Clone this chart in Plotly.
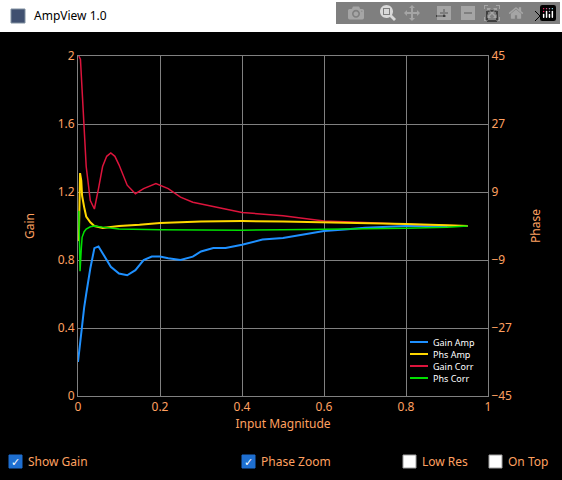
import plotly.graph_objects as go

# Gain traces (left axis)
gain_amp_x = [0.0, 0.005, 0.01, 0.015, 0.02, 0.03, 0.04, 0.05, 0.06, 0.08, 0.10, 0.12, 0.14, 0.16, 0.18, 0.20,
              0.22, 0.25, 0.28, 0.30, 0.33, 0.36, 0.40, 0.45, 0.50, 0.55, 0.60, 0.65, 0.70, 0.80, 0.90, 0.95]
gain_amp_y = [0.20, 0.32, 0.42, 0.52, 0.60, 0.75, 0.87, 0.88, 0.84, 0.76, 0.72, 0.71, 0.74, 0.80, 0.82, 0.82,
              0.81, 0.80, 0.82, 0.85, 0.87, 0.87, 0.89, 0.92, 0.93, 0.95, 0.97, 0.98, 0.99, 1.00, 1.00, 1.00]
gain_corr_x = [0.002, 0.006, 0.01, 0.015, 0.02, 0.03, 0.04, 0.05, 0.06, 0.07, 0.08, 0.09, 0.10, 0.12, 0.14,
               0.16, 0.19, 0.22, 0.25, 0.28, 0.32, 0.36, 0.40, 0.50, 0.60, 0.70, 0.80, 0.95]
gain_corr_y = [2.00, 1.98, 1.80, 1.55, 1.35, 1.15, 1.10, 1.22, 1.35, 1.41, 1.43, 1.41, 1.36, 1.24, 1.19,
               1.22, 1.25, 1.22, 1.17, 1.14, 1.12, 1.10, 1.08, 1.06, 1.03, 1.02, 1.01, 1.00]

# Phase traces (right axis, degrees)
phs_amp_x = [0.002, 0.005, 0.008, 0.01, 0.015, 0.02, 0.03, 0.04, 0.06, 0.10, 0.15, 0.20, 0.30, 0.40, 0.50,
             0.60, 0.70, 0.80, 0.90, 0.95]
phs_amp_y = [-4.0, 14.0, 12.0, 8.0, 5.0, 2.5, 1.0, 0.0, -0.5, 0.0, 0.3, 0.8, 1.2, 1.3, 1.2, 1.0, 0.8, 0.5, 0.2, 0.0]
phs_corr_x = [0.002, 0.005, 0.008, 0.01, 0.015, 0.02, 0.03, 0.04, 0.06, 0.10, 0.20, 0.30, 0.40, 0.50, 0.60,
              0.70, 0.80, 0.90, 0.95]
phs_corr_y = [4.0, -12.0, -6.0, -3.0, -1.5, -0.8, -0.2, 0.0, -0.3, -0.8, -1.0, -1.1, -1.1, -1.0, -0.9,
              -0.8, -0.6, -0.3, 0.0]

series_names = ["Gain Amp", "Phs Amp", "Gain Corr", "Phs Corr"]
series_colors = ["#1e90ff", "#ffd700", "#dc143c", "#00e000"]

ORANGE = "#ffa060"

fig = go.Figure()
fig.add_trace(go.Scatter(x=gain_amp_x, y=gain_amp_y, mode="lines", name=series_names[0],
                         line=dict(color=series_colors[0], width=2)))
fig.add_trace(go.Scatter(x=phs_amp_x, y=phs_amp_y, mode="lines", name=series_names[1], yaxis="y2",
                         line=dict(color=series_colors[1], width=2)))
fig.add_trace(go.Scatter(x=gain_corr_x, y=gain_corr_y, mode="lines", name=series_names[2],
                         line=dict(color=series_colors[2], width=1.5)))
fig.add_trace(go.Scatter(x=phs_corr_x, y=phs_corr_y, mode="lines", name=series_names[3], yaxis="y2",
                         line=dict(color=series_colors[3], width=1.5)))

ax = dict(showgrid=True, gridcolor="#808080", gridwidth=1, zeroline=False, showline=True,
          linecolor="#808080", mirror=True, tickfont=dict(color=ORANGE, size=12), ticks="")

fig.update_layout(
    width=562, height=480,
    margin=dict(l=78, r=74, t=56, b=84),
    paper_bgcolor="black", plot_bgcolor="black",
    font=dict(family="Segoe UI, Noto Sans, sans-serif", color=ORANGE, size=12),
    xaxis=dict(ax, range=[0, 1], tickvals=[0, 0.2, 0.4, 0.6, 0.8, 1],
               ticktext=["0", "0.2", "0.4", "0.6", "0.8", "1"],
               title=dict(text="Input Magnitude", font=dict(color=ORANGE, size=12), standoff=4)),
    yaxis=dict(ax, range=[0, 2], tickvals=[0, 0.4, 0.8, 1.2, 1.6, 2],
               ticktext=["0", "0.4", "0.8", "1.2", "1.6", "2"],
               title=dict(text="Gain", font=dict(color=ORANGE, size=12), standoff=20)),
    yaxis2=dict(ax, range=[-45, 45], tickvals=[-45, -27, -9, 9, 27, 45], overlaying="y", side="right",
                showgrid=False, title=dict(text="Phase", font=dict(color=ORANGE, size=12), standoff=20)),
    showlegend=False,
)

def px(x):
    return (x - 78) / 410.0

def py(y):
    return (396 - y) / 340.0

shapes = [
    dict(type="rect", xref="paper", yref="paper", x0=px(0), x1=px(562), y0=py(32), y1=py(0),
         fillcolor="white", line=dict(width=0), layer="below"),
    dict(type="rect", xref="paper", yref="paper", x0=px(11), x1=px(25), y0=py(23), y1=py(9),
         fillcolor="#405070", line=dict(color="#8090a0", width=1)),
    dict(type="line", xref="paper", yref="paper", x0=px(436), x1=px(446), y0=py(16), y1=py(16),
         line=dict(color="black", width=1)),
    dict(type="rect", xref="paper", yref="paper", x0=px(487), x1=px(497), y0=py(21), y1=py(11),
         line=dict(color="black", width=1)),
    dict(type="line", xref="paper", yref="paper", x0=px(535), x1=px(545), y0=py(21), y1=py(11),
         line=dict(color="black", width=1)),
    dict(type="line", xref="paper", yref="paper", x0=px(535), x1=px(545), y0=py(11), y1=py(21),
         line=dict(color="black", width=1)),
]
annotations = [dict(text="AmpView 1.0", xref="paper", yref="paper", x=px(32), y=py(16), xanchor="left",
                    yanchor="middle", showarrow=False, font=dict(color="black", size=12))]

# compact legend, bottom right inside the plot
for i, (name, color) in enumerate(zip(series_names, series_colors)):
    yy = 342 + 12 * i
    shapes.append(dict(type="line", xref="paper", yref="paper", x0=px(410), x1=px(428),
                       y0=py(yy), y1=py(yy), line=dict(color=color, width=2)))
    annotations.append(dict(text=name, xref="paper", yref="paper", x=px(431), y=py(yy),
                            xanchor="left", yanchor="middle", showarrow=False,
                            font=dict(color="white", size=9)))

checks = [("Show Gain", 9, True), ("Phase Zoom", 242, True), ("Low Res", 403, False), ("On Top", 489, False)]
for label, left, checked in checks:
    shapes.append(dict(type="rect", xref="paper", yref="paper", x0=px(left), x1=px(left + 13),
                       y0=py(468), y1=py(455),
                       fillcolor="#1e6fd0" if checked else "white",
                       line=dict(color="#1e6fd0" if checked else "#a0a0a0", width=1)))
    if checked:
        annotations.append(dict(text="✓", xref="paper", yref="paper", x=px(left + 6.5), y=py(461.5),
                                xanchor="center", yanchor="middle", showarrow=False,
                                font=dict(color="white", size=11)))
    annotations.append(dict(text=label, xref="paper", yref="paper", x=px(left + 17), y=py(461.5),
                            xanchor="left", yanchor="middle", showarrow=False,
                            font=dict(color=ORANGE, size=12)))

fig.update_layout(shapes=shapes, annotations=annotations)
fig.write_html("out.html", post_script="document.body.style.margin='0';")
